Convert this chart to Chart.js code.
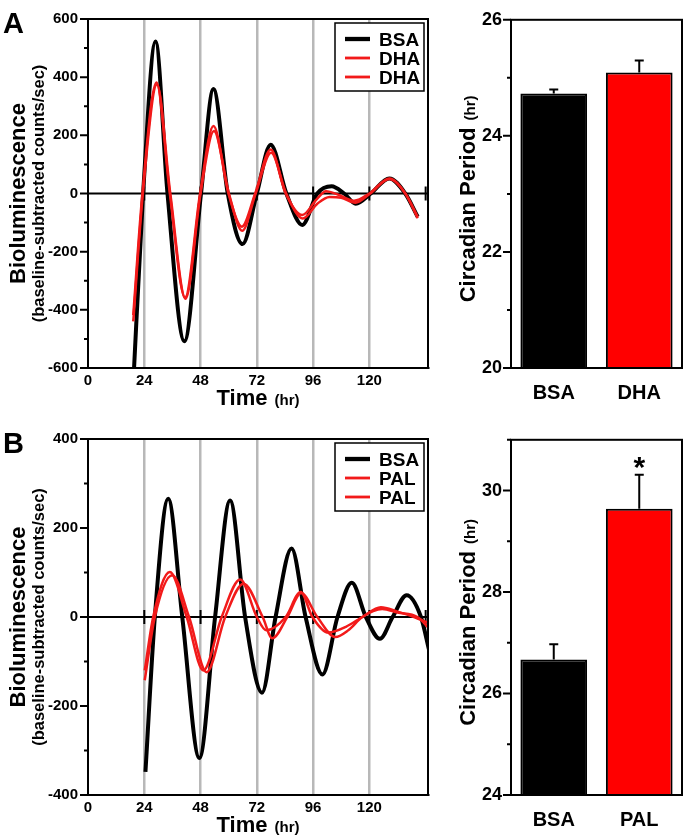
<!DOCTYPE html>
<html>
<head>
<meta charset="utf-8">
<script src="https://cdn.jsdelivr.net/npm/chart.js@4"></script>
<style>
body { margin: 0; background: #fff; }
.box { position: absolute; }
</style>
</head>
<body>
<div class="box" style="left:0;top:0"><canvas id="lineA" width="440" height="420"></canvas></div>
<div class="box" style="left:440px;top:0"><canvas id="barA" width="249" height="420"></canvas></div>
<div class="box" style="left:0;top:420px"><canvas id="lineB" width="440" height="416"></canvas></div>
<div class="box" style="left:440px;top:420px"><canvas id="barB" width="249" height="416"></canvas></div>
<script>
const FONT = "'Liberation Sans', Arial, Helvetica, sans-serif";
const RED = '#f21a1a';

// time axis (hr)
const timeTicks = [0, 24, 48, 72, 96, 120, 144];

// panel A: BSA vs DHA
const aBsaTime = [19.4, 23.5, 28.8, 33.9, 41.1, 48.2, 53.5, 59.6, 65.9, 72.0, 77.9, 84.6, 91.4, 97.8, 103.9, 109.2, 114.2, 120.6, 128.5, 135.3, 140.6];
const aBsaLum  = [-640, 0, 523, 0, -508, 0, 359, 0, -174, 0, 168, 0, -108, 0, 25, 0, -35, 0, 52, 0, -80];
const aDha1Time = [19.3, 23.2, 29.2, 34.9, 41.4, 47.8, 53.5, 59.9, 65.6, 71.3, 77.9, 84.3, 91.4, 97.5, 101.5, 107.0, 113.5, 120.0, 128.5, 135.3, 140.6];
const aDha1Lum  = [-418, 0, 382, 0, -358, 0, 232, 0, -114, 0, 151, 0, -74, -20, 8, -5, -25, 0, 52, 0, -80];
const aDha2Time = [19.3, 23.4, 29.4, 35.1, 41.6, 48.0, 53.7, 60.1, 65.8, 71.5, 78.1, 84.5, 91.6, 97.8, 103.0, 108.0, 114.0, 120.4, 128.5, 135.6, 140.6];
const aDha2Lum  = [-440, 0, 375, 0, -362, 0, 215, 0, -128, 0, 140, 0, -86, -35, -12, -15, -32, 0, 50, -3, -85];
const aGroups = ['BSA', 'DHA'];
const aPeriod = [24.73, 25.09];
const aPeriodErr = [0.07, 0.21];
const aSig = ['', ''];

// panel B: BSA vs PAL
const bBsaTime = [24.5, 28.5, 34.2, 40.2, 47.5, 54.2, 60.6, 67.0, 74.2, 80.0, 86.8, 92.8, 100.0, 106.4, 112.5, 118.5, 124.5, 129.9, 135.9, 142.0, 145.5];
const bBsaLum  = [-348, 0, 266, 0, -317, 0, 262, 0, -170, 0, 154, 0, -129, 0, 77, 0, -49, 0, 49, 0, -75];
const bPal1Time = [24.2, 27.8, 34.9, 42.1, 49.2, 57.0, 64.9, 72.0, 76.0, 84.3, 90.7, 95.7, 102.5, 110.0, 117.0, 124.9, 132.0, 139.0, 145.5];
const bPal1Lum  = [-120, 0, 101, 0, -120, 0, 84, 0, -30, 0, 56, 0, -35, -22, 0, 22, 12, 0, -14];
const bPal2Time = [24.2, 28.5, 35.9, 43.1, 50.6, 58.5, 66.3, 74.5, 78.6, 85.0, 90.9, 97.8, 105.5, 111.0, 117.0, 125.5, 132.0, 140.5, 145.5];
const bPal2Lum  = [-142, 0, 94, 0, -124, 0, 75, 0, -48, 0, 54, 0, -45, -30, 0, 18, 10, 0, -26];
const bGroups = ['BSA', 'PAL'];
const bPeriod = [26.67, 29.64];
const bPeriodErr = [0.30, 0.67];
const bSig = ['', '*'];

const barColors = ['#000000', '#ff0000'];

Chart.defaults.font.family = FONT;
Chart.defaults.font.weight = 'bold';
Chart.defaults.color = '#000';

function pts(xs, ys) {
    return xs.map((x, i) => ({ x: x, y: ys[i] }));
}

function lineSet(label, xs, ys, color, width, order) {
    return {
        label: label,
        data: pts(xs, ys),
        borderColor: color,
        borderWidth: width,
        pointRadius: 0,
        cubicInterpolationMode: 'monotone',
        fill: false,
        order: order,
        clip: 0
    };
}

// draws text pieces on one baseline, centred on cx
function drawParts(ctx, parts, cx, by) {
    const gap = 7;
    const ws = parts.map(p => { ctx.font = p[1]; return ctx.measureText(p[0]).width; });
    const total = ws.reduce((s, w) => s + w, 0) + gap * (parts.length - 1);
    let sx = cx - total / 2;
    ctx.textAlign = 'left';
    ctx.textBaseline = 'alphabetic';
    ctx.fillStyle = '#000';
    parts.forEach((p, i) => {
        ctx.font = p[1];
        ctx.fillText(p[0], sx, by);
        sx += ws[i] + gap;
    });
}

function rotParts(ctx, parts, x, cy) {
    ctx.save();
    ctx.translate(x, cy);
    ctx.rotate(-Math.PI / 2);
    drawParts(ctx, parts, 0, 0);
    ctx.restore();
}

const decor = {
    id: 'decor',
    beforeDatasetsDraw(chart, args, o) {
        if (!o.zeroLine) return;
        const ctx = chart.ctx, a = chart.chartArea;
        const x = chart.scales.x, y = chart.scales.y;
        const y0 = y.getPixelForValue(0);
        ctx.save();
        ctx.strokeStyle = '#000';
        ctx.lineWidth = 2;
        ctx.beginPath();
        ctx.moveTo(a.left, y0);
        ctx.lineTo(a.right, y0);
        timeTicks.forEach(t => {
            if (t > 0) {
                const px = x.getPixelForValue(t);
                ctx.moveTo(px, y0 - 7);
                ctx.lineTo(px, y0 + 7);
            }
        });
        ctx.stroke();
        ctx.restore();
    },
    afterDatasetsDraw(chart, args, o) {
        const ctx = chart.ctx, a = chart.chartArea, y = chart.scales.y;
        ctx.save();
        ctx.strokeStyle = '#000';
        ctx.lineWidth = 2;
        ctx.strokeRect(a.left, a.top, a.width, a.height);
        // y tick marks, long on labelled values
        ctx.beginPath();
        y.ticks.forEach(t => {
            const py = y.getPixelForValue(t.value);
            const len = Math.abs(t.value % o.major) < 1e-6 ? 8 : 4;
            ctx.moveTo(a.left, py);
            ctx.lineTo(a.left - len, py);
        });
        ctx.stroke();

        // error bars
        if (o.err) {
            const meta = chart.getDatasetMeta(0);
            const vals = chart.data.datasets[0].data;
            meta.data.forEach((bar, i) => {
                const top = y.getPixelForValue(vals[i] + o.err[i]);
                ctx.beginPath();
                ctx.moveTo(bar.x, bar.y);
                ctx.lineTo(bar.x, top);
                ctx.moveTo(bar.x - 4.5, top);
                ctx.lineTo(bar.x + 4.5, top);
                ctx.stroke();
                if (o.sig && o.sig[i]) {
                    ctx.fillStyle = '#000';
                    ctx.font = 'bold 30px ' + FONT;
                    ctx.textAlign = 'center';
                    ctx.textBaseline = 'alphabetic';
                    ctx.fillText(o.sig[i], bar.x, top + 2);
                }
            });
        }
        ctx.restore();
    },
    afterDraw(chart, args, o) {
        const ctx = chart.ctx, a = chart.chartArea;
        const cy = (a.top + a.bottom) / 2;
        ctx.save();
        if (o.bar) {
            rotParts(ctx, [['Circadian Period', 'bold 22px ' + FONT], ['(hr)', 'bold 15px ' + FONT]], a.left - 36, cy + 5);
        } else {
            rotParts(ctx, [['Bioluminescence', 'bold 22px ' + FONT]], a.left - 63, cy);
            rotParts(ctx, [['(baseline-subtracted counts/sec)', 'bold 16.5px ' + FONT]], a.left - 44.5, cy);
            drawParts(ctx, [['Time', 'bold 22px ' + FONT], ['(hr)', 'bold 15px ' + FONT]], (a.left + a.right) / 2, a.bottom + 37);

            ctx.font = 'bold 29px ' + FONT;
            ctx.textAlign = 'left';
            ctx.fillText(o.letter, 3, a.top + 14);

            // legend
            const w = 89, h = 68;
            const bx = a.right - 4 - w, by = a.top + 4;
            ctx.fillStyle = '#fff';
            ctx.fillRect(bx, by, w, h);
            ctx.strokeStyle = '#000';
            ctx.lineWidth = 1.5;
            ctx.strokeRect(bx, by, w, h);
            chart.data.datasets.forEach((ds, i) => {
                const base = by + 22.5 + i * 19;
                ctx.strokeStyle = ds.borderColor;
                ctx.lineWidth = ds.borderWidth + 0.3;
                ctx.beginPath();
                ctx.moveTo(bx + 10, base - 6.5);
                ctx.lineTo(bx + 35, base - 6.5);
                ctx.stroke();
                ctx.fillStyle = '#000';
                ctx.font = 'bold 19px ' + FONT;
                ctx.textAlign = 'left';
                ctx.fillText(ds.label, bx + 44, base);
            });
        }
        ctx.restore();
    }
};

function lineChart(id, datasets, yMin, yMax, padTop, xHeight, letter) {
    return new Chart(document.getElementById(id), {
        type: 'line',
        data: { datasets: datasets },
        options: {
            responsive: false,
            animation: false,
            layout: { padding: { top: padTop, right: 12, left: 0, bottom: 0 } },
            plugins: {
                legend: { display: false },
                tooltip: { enabled: false },
                decor: { zeroLine: true, major: 200, letter: letter }
            },
            scales: {
                x: {
                    type: 'linear',
                    min: 0,
                    max: 145,
                    afterBuildTicks: s => { s.ticks = timeTicks.map(v => ({ value: v })); },
                    grid: {
                        color: c => (c.tick && c.tick.value > 0 && c.tick.value < 144) ? '#b8b8b8' : 'rgba(0,0,0,0)',
                        lineWidth: 2.5,
                        drawTicks: false
                    },
                    border: { color: '#000', width: 2 },
                    ticks: {
                        padding: 4,
                        autoSkip: false,
                        maxRotation: 0,
                        font: { size: 15, weight: 'bold' },
                        callback: v => v <= 120 ? v : ''
                    },
                    afterFit: s => { s.height = xHeight; }
                },
                y: {
                    min: yMin,
                    max: yMax,
                    grid: { drawOnChartArea: false, drawTicks: false },
                    border: { color: '#000', width: 2 },
                    ticks: {
                        stepSize: 100,
                        autoSkip: false,
                        padding: 10,
                        font: { size: 15, weight: 'bold' },
                        callback: v => v % 200 === 0 ? v : ''
                    },
                    afterFit: s => { s.width = 88; }
                }
            }
        },
        plugins: [decor]
    });
}

function barChart(id, groups, values, errs, sig, yMin, yMax, padTop, xHeight) {
    return new Chart(document.getElementById(id), {
        type: 'bar',
        data: {
            labels: groups,
            datasets: [{
                data: values,
                backgroundColor: barColors,
                borderColor: '#000',
                borderWidth: 2,
                barPercentage: 0.78,
                categoryPercentage: 1
            }]
        },
        options: {
            responsive: false,
            animation: false,
            layout: { padding: { top: padTop, right: 7, left: 0, bottom: 0 } },
            plugins: {
                legend: { display: false },
                tooltip: { enabled: false },
                decor: { bar: true, major: 2, err: errs, sig: sig }
            },
            scales: {
                x: {
                    grid: { display: false },
                    border: { color: '#000', width: 2 },
                    ticks: { padding: 5, font: { size: 20, weight: 'bold' } },
                    afterFit: s => { s.height = xHeight; }
                },
                y: {
                    min: yMin,
                    max: yMax,
                    grid: { drawOnChartArea: false, drawTicks: false },
                    border: { color: '#000', width: 2 },
                    ticks: {
                        stepSize: 1,
                        autoSkip: false,
                        padding: 9,
                        font: { size: 18, weight: 'bold' },
                        callback: v => v % 2 === 0 ? v : ''
                    },
                    afterFit: s => { s.width = 71; }
                }
            }
        },
        plugins: [decor]
    });
}

lineChart('lineA', [
    lineSet('BSA', aBsaTime, aBsaLum, '#000', 4, 2),
    lineSet('DHA', aDha1Time, aDha1Lum, RED, 2.5, 1),
    lineSet('DHA', aDha2Time, aDha2Lum, RED, 2.5, 1)
], -600, 600, 13, 52, 'A');

lineChart('lineB', [
    lineSet('BSA', bBsaTime, bBsaLum, '#000', 4, 2),
    lineSet('PAL', bPal1Time, bPal1Lum, RED, 2.5, 1),
    lineSet('PAL', bPal2Time, bPal2Lum, RED, 2.5, 1)
], -400, 400, 19, 41, 'B');

barChart('barA', aGroups, aPeriod, aPeriodErr, aSig, 20, 26, 13, 52);
barChart('barB', bGroups, bPeriod, bPeriodErr, bSig, 24, 31, 19, 41);
</script>
</body>
</html>
